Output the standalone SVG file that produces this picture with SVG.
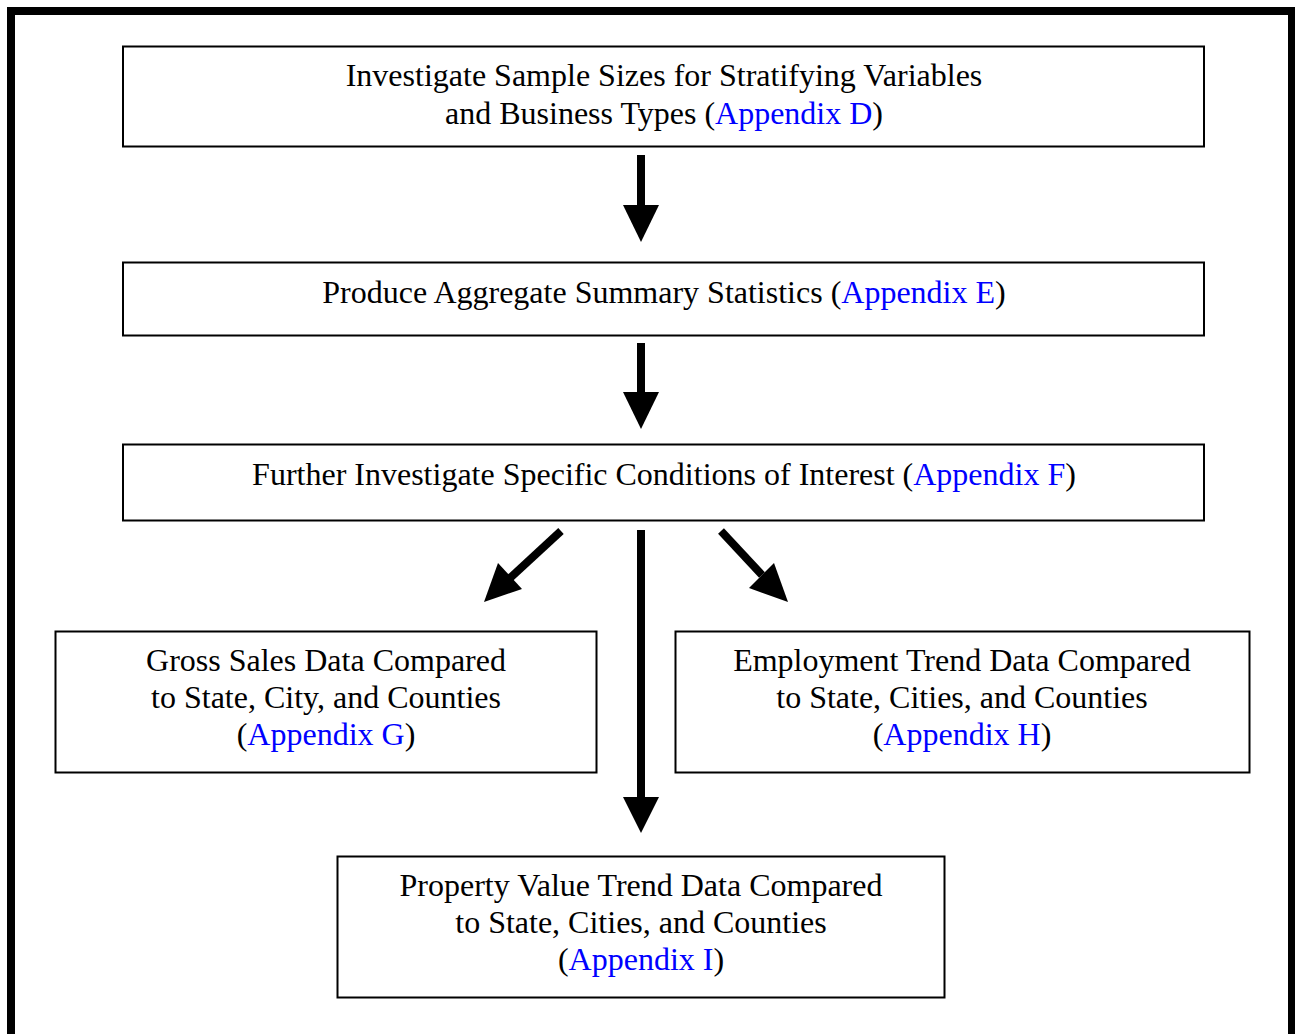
<svg xmlns="http://www.w3.org/2000/svg" width="1295" height="1034" viewBox="0 0 1295 1034">
<style>
.box{fill:#fff;stroke:#000;stroke-width:2}
.t{font-family:"Liberation Serif","Times New Roman",serif;font-size:32px;fill:#000;text-anchor:middle}
.a{fill:#0000ff}
.sh{stroke:#000;stroke-width:8;fill:none}
.hd{fill:#000}
</style>
<rect x="0" y="0" width="1295" height="1034" fill="#fff"/>
<rect x="11" y="11" width="1281" height="1040" fill="none" stroke="#000" stroke-width="8"/>
<g id="n1">
<rect class="box" x="123" y="46.5" width="1081" height="100"/>
<text class="t" x="664" y="86">Investigate Sample Sizes for Stratifying Variables</text>
<text class="t" x="664" y="124">and Business Types (<tspan class="a">Appendix D</tspan>)</text>
</g>
<g id="n2">
<rect class="box" x="123" y="262.5" width="1081" height="73"/>
<text class="t" x="664" y="303">Produce Aggregate Summary Statistics (<tspan class="a">Appendix E</tspan>)</text>
</g>
<g id="n3">
<rect class="box" x="123" y="444.5" width="1081" height="76"/>
<text class="t" x="664" y="485">Further Investigate Specific Conditions of Interest (<tspan class="a">Appendix F</tspan>)</text>
</g>
<g id="n4">
<rect class="box" x="55.5" y="631.5" width="541" height="141"/>
<text class="t" x="326" y="671">Gross Sales Data Compared</text>
<text class="t" x="326" y="708">to State, City, and Counties</text>
<text class="t" x="326" y="745">(<tspan class="a">Appendix G</tspan>)</text>
</g>
<g id="n5">
<rect class="box" x="675.5" y="631.5" width="574" height="141"/>
<text class="t" x="962" y="671">Employment Trend Data Compared</text>
<text class="t" x="962" y="708">to State, Cities, and Counties</text>
<text class="t" x="962" y="745">(<tspan class="a">Appendix H</tspan>)</text>
</g>
<g id="n6">
<rect class="box" x="337.5" y="856.5" width="607" height="141"/>
<text class="t" x="641" y="896">Property Value Trend Data Compared</text>
<text class="t" x="641" y="933">to State, Cities, and Counties</text>
<text class="t" x="641" y="970">(<tspan class="a">Appendix I</tspan>)</text>
</g>
<g id="connectors">
<line class="sh" x1="641" y1="155" x2="641" y2="208"/>
<polygon class="hd" points="623,205 659,205 641,242"/>
<line class="sh" x1="641" y1="343" x2="641" y2="395"/>
<polygon class="hd" points="623,392 659,392 641,429"/>
<line class="sh" x1="641" y1="530" x2="641" y2="800"/>
<polygon class="hd" points="623,797 659,797 641,833"/>
<line class="sh" x1="561" y1="531" x2="510" y2="578"/>
<polygon class="hd" points="484,602 498,563 522,589"/>
<line class="sh" x1="721" y1="531" x2="762" y2="575"/>
<polygon class="hd" points="788,602 749,588 774,563"/>
</g>
</svg>
